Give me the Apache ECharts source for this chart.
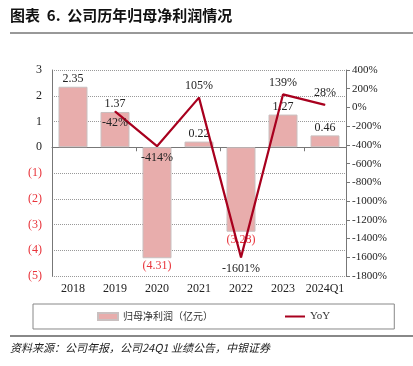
<!DOCTYPE html>
<html>
<head>
<meta charset="utf-8">
<script src="https://cdn.jsdelivr.net/npm/echarts@6/dist/echarts.min.js"></script>
<style>
html, body { margin: 0; padding: 0; background: #fff; }
#chart { width: 413px; height: 366px; }
</style>
</head>
<body>
<div id="chart"></div>
<script>
var categories = ['2018', '2019', '2020', '2021', '2022', '2023', '2024Q1'];
var profit = [2.35, 1.37, -4.31, 0.22, -3.28, 1.27, 0.46];
var yoy = ['-', -42, -414, 105, -1601, 139, 28];
var yoyLabelPos = ['top', 'bottom', 'bottom', 'top', 'bottom', 'top', 'top'];

var serif = '"Liberation Serif", "Noto Sans CJK SC", serif';
var cjk = '"Noto Sans CJK SC", sans-serif';

var chart = echarts.init(document.getElementById('chart'));

function fmtProfit(v) {
    return v < 0 ? '(' + Math.abs(v).toFixed(2) + ')' : v.toFixed(2);
}

var barData = profit.map(function(v) {
    return {
        value: v,
        label: {
            position: v < 0 ? 'bottom' : 'top',
            color: v < 0 ? '#e8333a' : '#222'
        }
    };
});

var lineData = yoy.map(function(v, i) {
    return {
        value: v,
        label: { position: yoyLabelPos[i] }
    };
});

var option = {
    animation: false,
    textStyle: { fontFamily: serif },
    grid: { left: 52, right: 67, top: 70, bottom: 90 },
    legend: {
        left: 33,
        top: 304,
        padding: [7, 64],
        borderColor: '#888',
        borderWidth: 1,
        itemGap: 72,
        itemWidth: 20,
        itemHeight: 7,
        textStyle: { fontFamily: cjk, fontSize: 10, color: '#333' },
        data: [
            { name: '归母净利润（亿元）', icon: 'rect' },
            { name: 'YoY', icon: 'path://M0,0L20,0L20,2L0,2Z', textStyle: { fontFamily: serif, fontSize: 11 } }
        ]
    },
    xAxis: [
        {
            type: 'category',
            data: categories,
            axisLine: { onZero: true, lineStyle: { color: '#777' } },
            axisTick: { show: true, length: 4, lineStyle: { color: '#777' } },
            axisLabel: { show: false }
        },
        {
            type: 'category',
            data: categories,
            position: 'bottom',
            axisLine: { show: false, onZero: false },
            axisTick: { show: false },
            axisLabel: { interval: 0, color: '#222', fontSize: 12, fontFamily: serif, margin: 7 }
        }
    ],
    yAxis: [
        {
            type: 'value',
            min: -5,
            max: 3,
            interval: 1,
            axisLine: { show: true, lineStyle: { color: '#777' } },
            axisTick: { show: false },
            splitLine: { lineStyle: { color: '#999', type: [1, 1] } },
            axisLabel: {
                fontSize: 12,
                fontFamily: serif,
                margin: 10,
                formatter: function(v) { return v < 0 ? '(' + Math.abs(v) + ')' : String(v); },
                color: function(v) { return Number(v) < 0 ? '#e8333a' : '#222'; }
            }
        },
        {
            type: 'value',
            min: -1800,
            max: 400,
            interval: 200,
            axisLine: { show: true, lineStyle: { color: '#777' } },
            axisTick: { show: true, length: 4, lineStyle: { color: '#777' } },
            splitLine: { show: false },
            axisLabel: {
                fontSize: 11,
                fontFamily: serif,
                color: '#222',
                margin: 6,
                formatter: function(v) { return v + '%'; }
            }
        }
    ],
    series: [
        {
            name: '归母净利润（亿元）',
            type: 'bar',
            xAxisIndex: 0,
            yAxisIndex: 0,
            barWidth: 29,
            data: barData,
            itemStyle: { color: '#e8adac', borderColor: '#c9c0c0', borderWidth: 1 },
            label: {
                show: true,
                fontSize: 12,
                fontFamily: serif,
                distance: 2,
                formatter: function(p) { return fmtProfit(p.value); }
            }
        },
        {
            name: 'YoY',
            type: 'line',
            xAxisIndex: 0,
            yAxisIndex: 1,
            data: lineData,
            symbol: 'circle',
            symbolSize: 1,
            showSymbol: true,
            lineStyle: { color: '#a8001e', width: 2.2 },
            itemStyle: { color: '#a8001e' },
            label: {
                show: true,
                fontSize: 12,
                fontFamily: serif,
                color: '#222',
                distance: 5,
                formatter: function(p) { return p.value + '%'; }
            },
            z: 3
        }
    ],
    graphic: [
        {
            type: 'text',
            left: 10,
            top: 8,
            style: {
                text: '图表  6.  公司历年归母净利润情况',
                font: 'bold 15px "Noto Sans CJK SC", sans-serif',
                fill: '#111'
            }
        },
        {
            type: 'line',
            shape: { x1: 10, y1: 33, x2: 413, y2: 33 },
            style: { stroke: '#333', lineWidth: 1 }
        },
        {
            type: 'line',
            shape: { x1: 10, y1: 336, x2: 413, y2: 336 },
            style: { stroke: '#888', lineWidth: 2 }
        },
        {
            type: 'text',
            left: 10,
            top: 342,
            style: {
                text: '资料来源：公司年报，公司24Q1 业绩公告，中银证券',
                font: 'italic 11px "Noto Sans CJK SC", sans-serif',
                fill: '#222'
            }
        }
    ]
};

chart.setOption(option);
</script>
</body>
</html>
